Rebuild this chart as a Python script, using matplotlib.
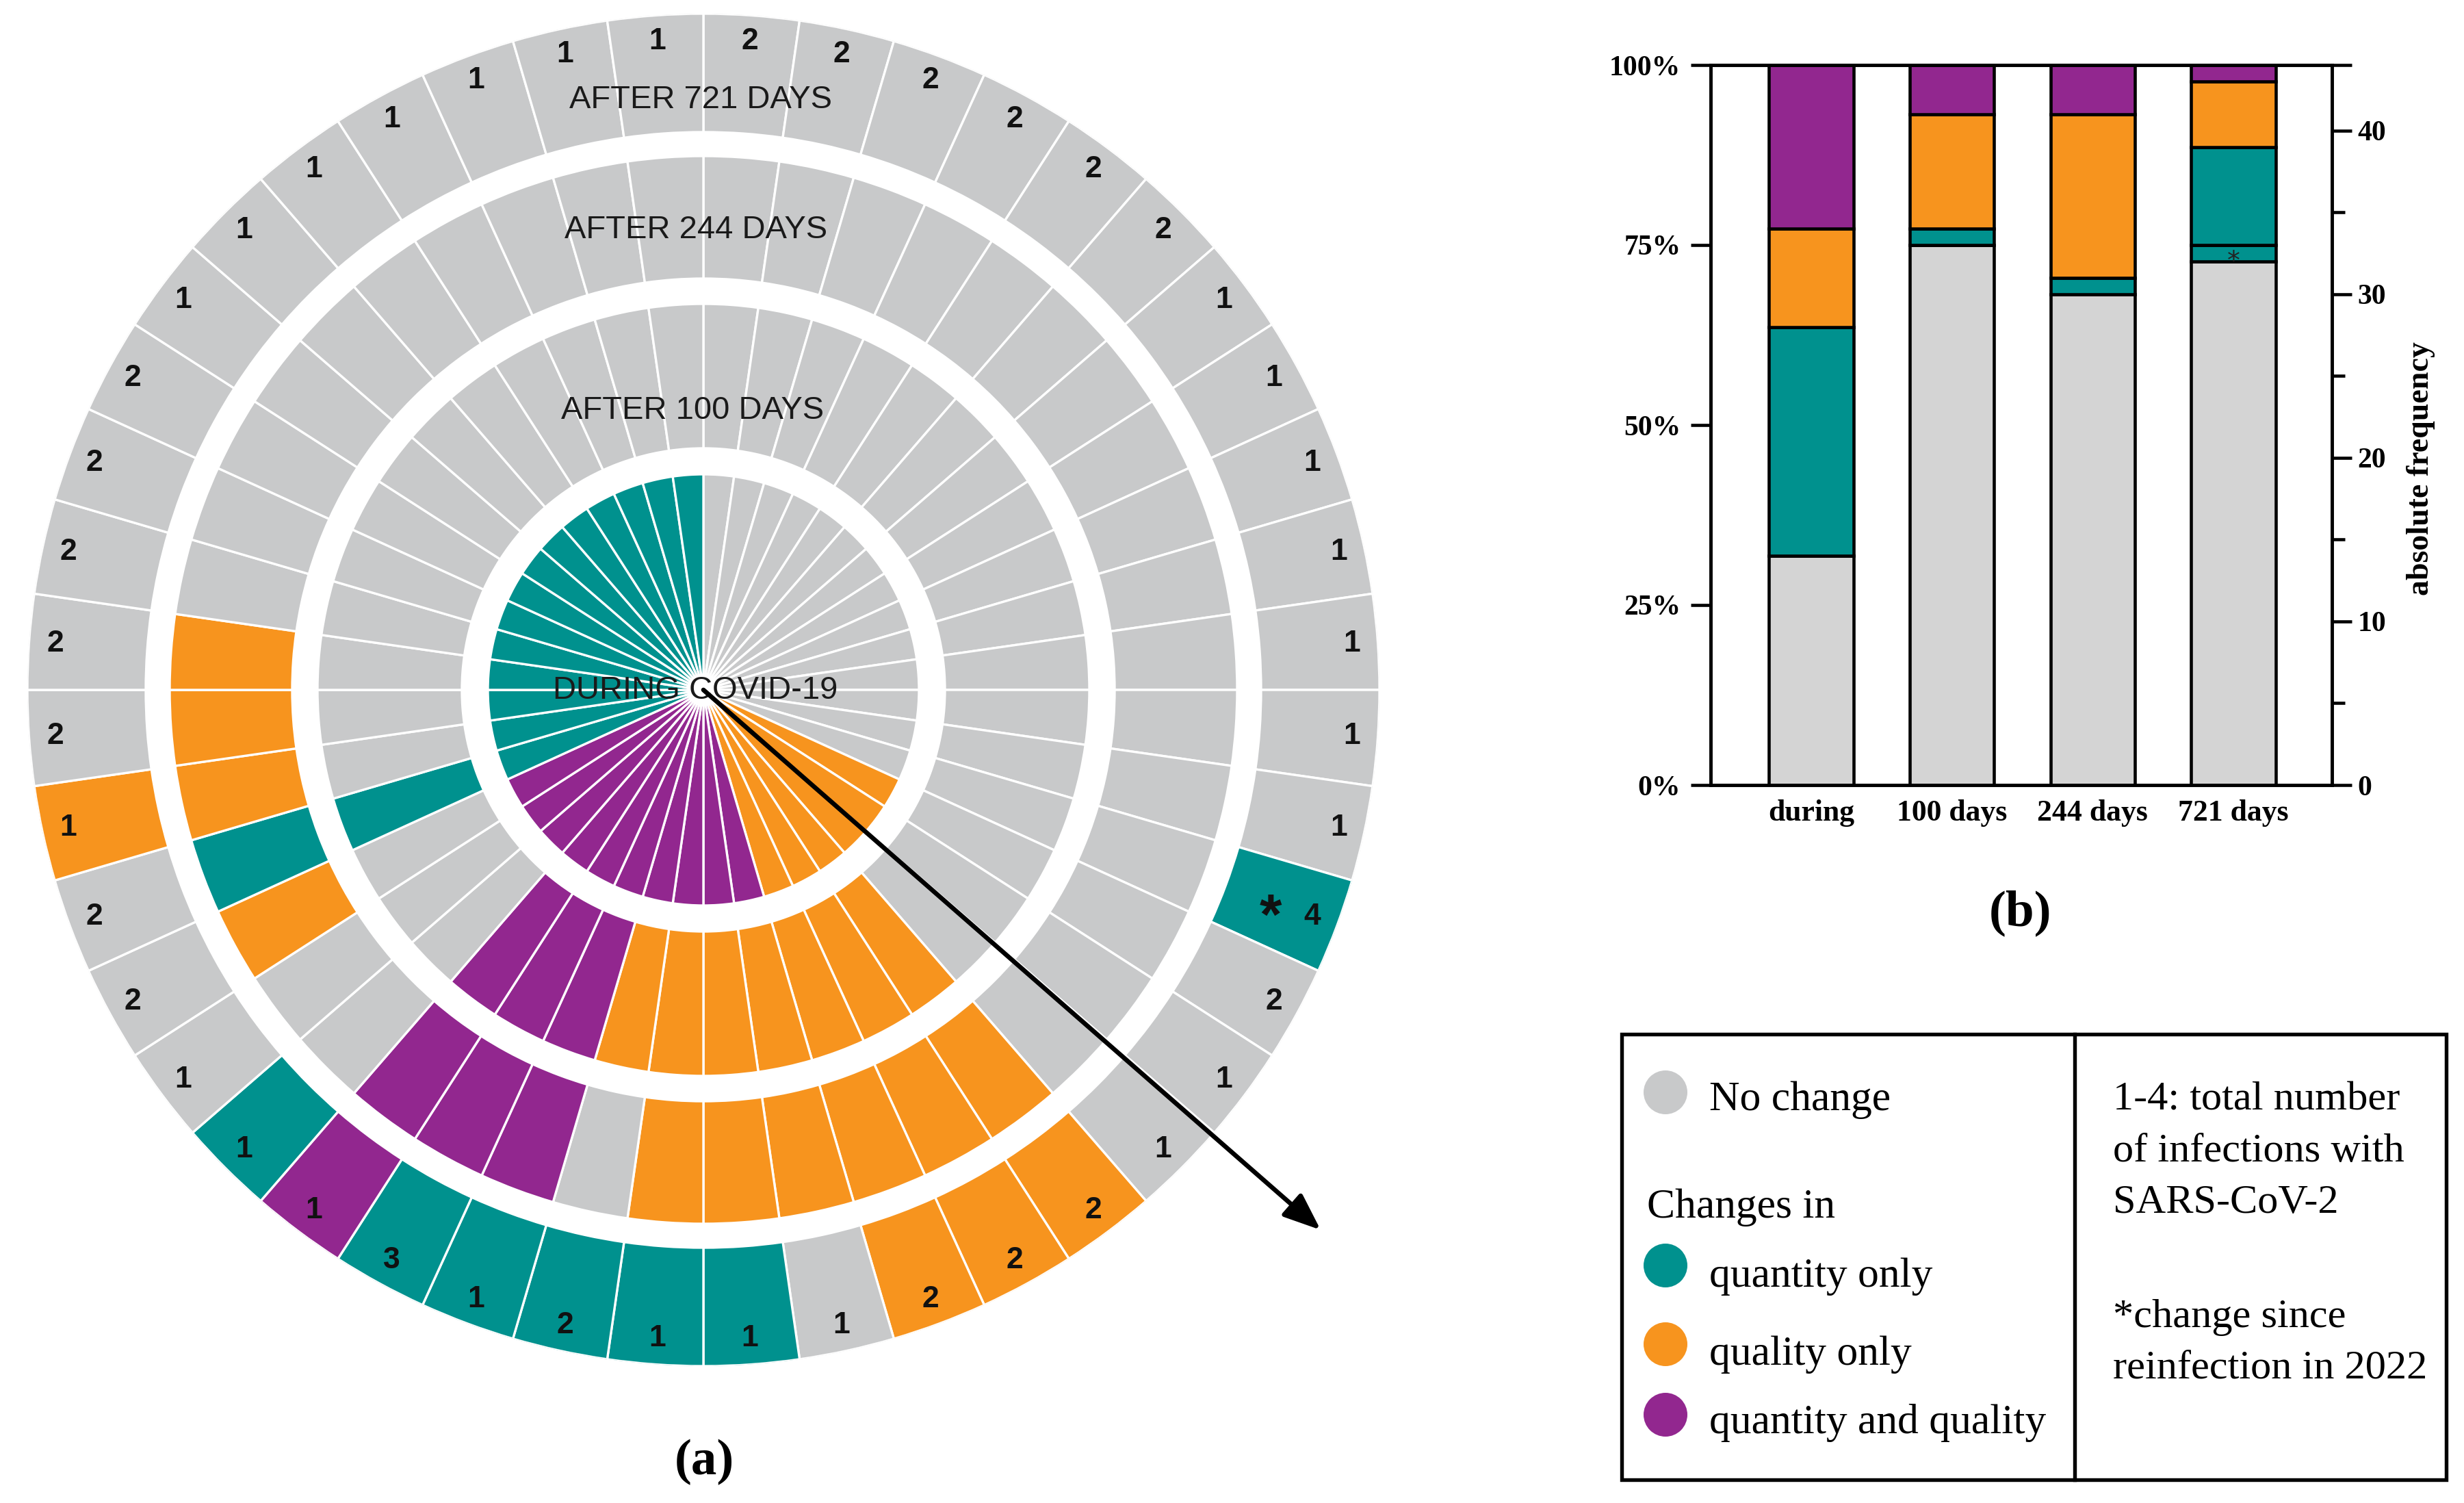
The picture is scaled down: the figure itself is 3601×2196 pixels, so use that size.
import numpy as np
import matplotlib
matplotlib.use("Agg")
import matplotlib.pyplot as plt
from matplotlib.patches import Rectangle, Circle

# ---------------- data ----------------
# one character per participant, clockwise from 12 o'clock
# N = no change, Q = quantity only, L = quality only, B = quantity and quality
during   = "NNNNNNNNNNNNNNLLLLLLBBBBBBBBBBQQQQQQQQQQQQQQ"
after100 = "NNNNNNNNNNNNNNNNNLLLLLLLBBBNNNQNNNNNNNNNNNNN"
after244 = "NNNNNNNNNNNNNNNNNLLLLLLNBBBNNLQLLLNNNNNNNNNN"
after721 = "NNNNNNNNNNNNNQNNNLLLNQQQQQBQNNNLNNNNNNNNNNNN"
infections = [2, 2, 2, 2, 2, 2, 1, 1, 1, 1, 1, 1, 1, 4, 2, 1, 1, 2, 2, 2, 1, 1,
              1, 2, 1, 3, 1, 1, 1, 2, 2, 1, 2, 2, 2, 2, 2, 1, 1, 1, 1, 1, 1, 1]
reinfected = [13]          # participants marked with *
ring_labels = ["DURING COVID-19", "AFTER 100 DAYS", "AFTER 244 DAYS", "AFTER 721 DAYS"]
bar_labels = ["during", "100 days", "244 days", "721 days"]
pct_ticks = ["0%", "25%", "50%", "75%", "100%"]
legend_items = ["No change", "quantity only", "quality only", "quantity and quality"]
legend_notes = ["1-4: total number", "of infections with", "SARS-CoV-2",
                "*change since", "reinfection in 2022"]

# ---------------- style ----------------
polar_col = {"N": "#C8C9CA", "Q": "#00918E", "L": "#F7941E", "B": "#92278F"}
bar_col = {"N": "#D4D4D4", "Q*": "#00918E", "Q": "#00918E", "L": "#F7941E", "B": "#92278F"}

W, H = 3601, 2196
fig = plt.figure(figsize=(W / 300, H / 300), dpi=300)

# ---------------- (a) polar chart ----------------
cx, cy, R = 1028, 1008, 988
ax = fig.add_axes([(cx - R) / W, (H - (cy + R)) / H, 2 * R / W, 2 * R / H],
                  projection="polar")
ax.set_theta_zero_location("N")
ax.set_theta_direction(-1)
ax.set_ylim(0, R)
ax.axis("off")

rings = [(during, 0, 315), (after100, 353, 564), (after244, 601, 780), (after721, 815, 988)]
n = len(during)
theta = (np.arange(n) + 0.5) * 2 * np.pi / n
for codes, r0, r1 in rings:
    ax.bar(theta, r1 - r0, width=2 * np.pi / n, bottom=r0,
           color=[polar_col[c] for c in codes], edgecolor="white",
           linewidth=0.8, align="center")

for i, k in enumerate(infections):
    ax.text(theta[i], 950, str(k), ha="center", va="center", fontsize=10.7,
            fontweight="bold", family="Liberation Sans", color="#111111")
for i in reinfected:
    ax.annotate("*", xy=(theta[i], 885), xytext=(0, -11.5), textcoords="offset points",
                ha="center", va="baseline", fontsize=20, fontweight="bold",
                family="Liberation Sans", color="#111111")

# ---------------- overlay in pixel coordinates ----------------
ov = fig.add_axes([0, 0, 1, 1])
ov.set_xlim(0, W)
ov.set_ylim(H, 0)
ov.axis("off")

label_pos = [(1016, 1021), (1012, 612), (1017, 348), (1024, 158)]
for txt, (x, y) in zip(ring_labels, label_pos):
    ov.text(x, y, txt, ha="center", va="baseline", fontsize=11.3,
            family="Liberation Sans", color="#1a1a1a")

ov.annotate("", xy=(1930, 1797), xytext=(cx, cy),
            arrowprops=dict(arrowstyle="-|>,head_length=0.55,head_width=0.22",
                            mutation_scale=20, lw=1.6, color="black",
                            shrinkA=0, shrinkB=0))

ov.text(1029, 2136, "(a)", ha="center", va="center", fontsize=18,
        fontweight="bold", family="Liberation Serif")
ov.text(2952, 1334, "(b)", ha="center", va="center", fontsize=18,
        fontweight="bold", family="Liberation Serif")

# legend box
ov.add_patch(Rectangle((2370, 1511), 1205, 651, fill=False, lw=1.3, edgecolor="black"))
ov.plot([3032, 3032], [1511, 2162], color="black", lw=1.3)
leg_cols = [polar_col["N"], polar_col["Q"], polar_col["L"], polar_col["B"]]
circ_y = [1596, 1849, 1964, 2067]
text_base = [1622, 1880, 1994, 2094]
for lab, col, yc, yb in zip(legend_items, leg_cols, circ_y, text_base):
    ov.add_patch(Circle((2434, yc), 32, color=col, lw=0))
    ov.text(2498, yb, lab, ha="left", va="baseline", fontsize=14.8,
            family="Liberation Serif")
ov.text(2407, 1779, "Changes in", ha="left", va="baseline", fontsize=14.8,
        family="Liberation Serif")
note_base = [1622, 1697, 1772, 1939, 2014]
for lab, yb in zip(legend_notes, note_base):
    ov.text(3088, yb, lab, ha="left", va="baseline", fontsize=14.5,
            family="Liberation Serif")

# ---------------- (b) stacked bar chart ----------------
series = [during, after100, after244, after721]
counts = {k: [] for k in ["N", "Q*", "Q", "L", "B"]}
for s in series:
    star = [c for i, c in enumerate(s) if i in reinfected and s is after721]
    nq_star = sum(1 for c in star if c == "Q")
    counts["N"].append(s.count("N"))
    counts["Q*"].append(nq_star)
    counts["Q"].append(s.count("Q") - nq_star)
    counts["L"].append(s.count("L"))
    counts["B"].append(s.count("B"))

bx = fig.add_axes([2500 / W, (H - 1147) / H, 908 / W, 1052 / H])
pos = np.arange(len(bar_labels))
bottom = np.zeros(len(bar_labels))
for key in ["N", "Q*", "Q", "L", "B"]:
    vals = np.array(counts[key], dtype=float)
    bx.bar(pos, vals, 0.6, bottom=bottom, color=bar_col[key],
           edgecolor="black", linewidth=1.1, zorder=2)
    bottom += vals
# asterisk in the reinfection segment
for j, v in enumerate(counts["Q*"]):
    if v:
        base = counts["N"][j]
        bx.annotate("*", xy=(pos[j], base + v / 2), xytext=(0, -3.2),
                    textcoords="offset points", ha="center", va="center",
                    fontsize=9, family="DejaVu Sans", color="#222222", zorder=3)

total = len(during)
bx.set_xlim(-0.715, 3.70)
bx.set_ylim(0, total)
bx.set_yticks(np.linspace(0, total, 5))
bx.set_yticklabels(pct_ticks)
bx.set_xticks(pos)
bx.set_xticklabels(bar_labels)
for sp in bx.spines.values():
    sp.set_linewidth(1.1)
bx.tick_params(axis="y", length=7, width=1.1, pad=3.5)
bx.tick_params(axis="x", length=0, pad=5)
for t in bx.get_yticklabels() + bx.get_xticklabels():
    t.set_family("Liberation Serif")
    t.set_fontweight("bold")
for t in bx.get_yticklabels():
    t.set_fontsize(10)
for t in bx.get_xticklabels():
    t.set_fontsize(10.5)

rx = bx.twinx()
rx.set_ylim(0, total)
rx.set_yticks([0, 10, 20, 30, 40, 44])
rx.set_yticklabels(["0", "10", "20", "30", "40", ""])
rx.set_yticks([5, 15, 25, 35], minor=True)
rx.tick_params(axis="y", which="major", length=7, width=1.1, pad=2)
rx.tick_params(axis="y", which="minor", length=4.5, width=1.1)
for sp in rx.spines.values():
    sp.set_linewidth(1.1)
for t in rx.get_yticklabels():
    t.set_family("Liberation Serif")
    t.set_fontweight("bold")
    t.set_fontsize(10)
bx.text(1.143, 0.44, "absolute frequency", transform=bx.transAxes, rotation=90,
        ha="center", va="center", fontsize=11, fontweight="bold",
        family="Liberation Serif")

fig.savefig("out.png", dpi=300)
